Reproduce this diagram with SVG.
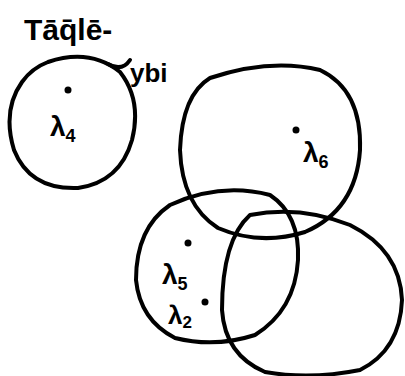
<svg xmlns="http://www.w3.org/2000/svg" width="405" height="376" viewBox="0 0 405 376">
<style>
.c{fill:none;stroke:#000;stroke-width:4;stroke-linecap:round}
.t{font-family:"Liberation Sans","DejaVu Sans",sans-serif;font-weight:bold;fill:#000}
</style>
<rect width="405" height="376" fill="#fff"/>
<g id="title">
<text class="t" x="24" y="40" font-size="30">Tāq̄lē-</text>
<text class="t" x="130" y="82" font-size="26">ybi</text>
</g>
<g id="connectors">
<path class="c" d="M108 64 Q122 72 130 60"/>
</g>
<g id="set4">
<path class="c" d="M48 62 Q90 48 120 72 Q142 100 132 140 Q120 182 78 188 Q30 190 14 150 Q2 110 22 82 Q32 68 48 62Z"/>
<circle cx="68" cy="90" r="3.5"/>
<text class="t" x="50" y="136" font-size="28">λ<tspan font-size="18" dy="6">4</tspan></text>
</g>
<g id="set6">
<path class="c" d="M210 78 Q270 58 320 70 Q362 90 360 150 Q356 210 305 232 Q260 246 218 228 Q182 205 180 150 Q182 95 210 78Z"/>
<circle cx="296" cy="130" r="3.5"/>
<text class="t" x="303" y="162" font-size="28">λ<tspan font-size="18" dy="6">6</tspan></text>
</g>
<g id="set5">
<path class="c" d="M170 205 Q220 182 270 195 Q300 215 298 260 Q295 310 255 335 Q215 348 175 338 Q140 320 136 280 Q136 228 170 205Z"/>
<circle cx="188" cy="243" r="3.5"/>
<text class="t" x="162" y="284" font-size="28">λ<tspan font-size="18" dy="6">5</tspan></text>
<circle cx="205" cy="302" r="3.5"/>
<text class="t" x="168" y="324" font-size="26">λ<tspan font-size="17" dy="4">2</tspan></text>
</g>
<g id="set3">
<path class="c" d="M250 215 Q300 205 350 225 Q400 250 402 300 Q400 350 360 370 Q310 380 265 372 Q225 355 222 310 Q222 240 250 215Z"/>
</g>
</svg>
